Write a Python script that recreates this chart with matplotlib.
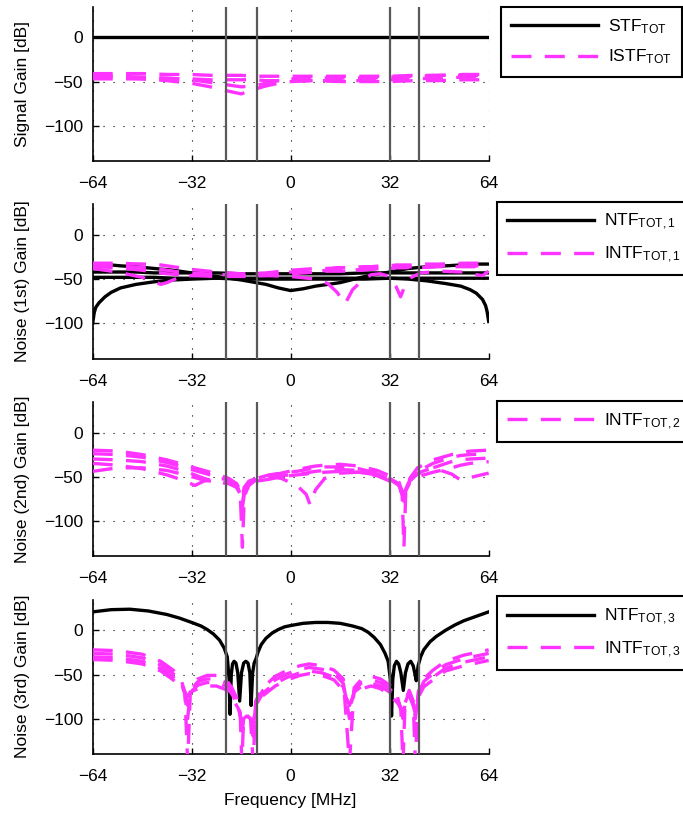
import numpy as np
import matplotlib
matplotlib.use("Agg")
import matplotlib.pyplot as plt

plt.rcParams['font.family'] = ['Liberation Sans', 'DejaVu Sans']
plt.rcParams['font.size'] = 12.5
plt.rcParams['mathtext.default'] = 'regular'

MAG = '#ff33ff'
# band edges (MHz)
band_edges = [-21, -11, 32, 41.6]

# ---- panel 1: signal gain
stf_f = [-64, 64]
stf_tot = [0, 0]
f1 = [-64, -56, -48, -40, -32, -26, -20, -16, -12, -8, -4, 0, 8, 16, 24, 32, 40, 48, 56, 64]
istf_a = [-41, -41, -41, -42, -42, -43, -43, -43, -44, -44, -44, -44, -44, -44, -44, -44, -43, -43, -42, -42]
istf_b = [-47, -47, -47, -47, -47, -48, -48, -48, -48, -49, -49, -49, -49, -50, -50, -50, -49, -49, -48, -48]
istf_c = [-44, -45, -47, -49, -52, -56, -61, -64, -59, -55, -52, -50, -49, -49, -49, -48, -47, -46, -45, -44]
istf_d = [-43, -44, -45, -46, -48, -51, -54, -56, -55, -52, -49, -47, -46, -46, -46, -45, -44, -43, -43, -43]

# ---- panel 2: 1st stage noise
f2 = [-64, -63.5, -63, -62, -60, -58, -55, -50, -44, -38, -32, -24, -16, -8, -4, 0, 4, 8, 16, 24, 32,
      38, 44, 50, 55, 58, 60, 62, 63, 63.5, 64]
ntf1_edge = [-100, -88, -82, -77, -70, -65, -60, -56, -53, -51, -50, -49, -49, -49, -49, -49, -49, -49, -49, -49, -49,
             -50, -52, -55, -58, -62, -66, -73, -80, -87, -98]
ntf1_dip = [-33, -33, -33, -33, -34, -34, -35, -36, -38, -40, -43, -47, -51, -56, -60, -63, -61, -58, -54, -47, -42,
            -38, -36, -35, -34, -33, -33, -33, -33, -33, -33]
ntf1_flat1 = [-42, -42, -42, -42, -42, -42, -42, -42, -43, -43, -43, -43, -44, -44, -44, -44, -44, -44, -44, -43, -43,
              -43, -43, -43, -43, -43, -43, -43, -43, -43, -43]
ntf1_flat2 = [-48, -48, -48, -48, -48, -48, -48, -48, -48, -49, -49, -49, -50, -50, -50, -50, -50, -50, -50, -50, -49,
              -49, -49, -49, -49, -49, -49, -49, -49, -49, -49]
f2m = [-64, -56, -48, -44, -42, -40, -36, -32, -24, -16, -8, 0, 8, 12, 15, 17.5, 18.5, 20, 23, 26, 29, 32, 34,
       35.5, 36, 37, 39, 42, 48, 56, 60, 62, 64]
intf1_a = [-32, -32, -33, -33, -34, -35, -37, -39, -42, -44, -43, -40, -38, -38, -37, -37, -37, -37, -36, -36, -35,
           -35, -34, -34, -34, -34, -34, -33, -33, -32, -32, -32, -32]
intf1_b = [-36, -37, -40, -42, -43, -44, -45, -46, -47, -47, -46, -44, -42, -41, -41, -41, -41, -40, -40, -39, -38,
           -38, -37, -37, -37, -37, -36, -36, -35, -35, -35, -35, -35]
intf1_c = [-38, -42, -48, -53, -56, -54, -48, -46, -45, -45, -44, -42, -41, -40, -40, -40, -40, -40, -39, -39, -38,
           -38, -37, -37, -37, -37, -37, -37, -36, -36, -36, -36, -36]
intf1_d = [-34, -35, -37, -38, -39, -40, -42, -43, -45, -46, -46, -47, -50, -55, -65, -78, -72, -62, -52, -45, -44,
           -47, -58, -70, -66, -56, -48, -43, -41, -42, -45, -46, -41]

# ---- panel 3: 2nd stage noise
f3 = [-64, -56, -48, -40, -34, -31, -28, -24, -20, -17.5, -16.3, -15.6, -15, -13.5, -11, -7, -3, 2, 5, 6.3, 8,
      11, 16, 22, 28, 32, 35, 36, 36.6, 37.2, 38.5, 41, 46, 52, 55, 58, 64]
intf2_a = [-20, -21, -25, -31, -37, -40, -43, -47, -52, -58, -70, -130, -72, -60, -53, -49, -46, -42, -40, -39, -38,
           -37, -36, -38, -43, -49, -56, -68, -130, -68, -52, -40, -31, -25, -23, -21, -20]
intf2_b = [-24, -25, -28, -34, -40, -43, -46, -50, -54, -60, -68, -80, -66, -58, -52, -48, -46, -44, -42, -41, -40,
           -39, -39, -41, -46, -52, -58, -66, -75, -64, -54, -44, -35, -28, -26, -25, -24]
intf2_c = [-30, -31, -33, -38, -44, -48, -52, -56, -58, -62, -68, -76, -65, -58, -53, -51, -49, -47, -46, -45, -44,
           -43, -42, -43, -47, -53, -60, -68, -78, -64, -55, -47, -40, -33, -31, -30, -29]
intf2_d = [-35, -37, -41, -48, -55, -60, -55, -52, -53, -58, -65, -72, -62, -55, -52, -50, -52, -60, -70, -82, -65,
           -52, -46, -45, -49, -55, -62, -70, -76, -62, -52, -46, -40, -47, -54, -51, -46]
intf2_e = [-44, -40, -40, -43, -48, -51, -54, -56, -57, -62, -70, -85, -70, -60, -55, -53, -50, -48, -47, -46, -46,
           -45, -44, -45, -48, -53, -60, -70, -80, -66, -57, -50, -45, -40, -37, -35, -33]

# ---- panel 4: 3rd stage noise
ntf3_f = [-64, -58, -52, -46, -40, -36, -32, -29, -27, -25, -23, -21.5, -20.5, -19.9, -19.6, -19.2, -18.8, -18.3,
          -17.7, -17.1, -16.5, -15.9, -15.2, -14.5, -13.8, -13.2, -12.8, -12.3, -11.8, -11.2, -10.5, -9.5, -8, -6,
          -4, -2, 0, 4, 8, 12, 16, 20, 23, 25, 27, 29, 30.5, 31.5, 32.2, 32.6, 33, 33.5, 34.2, 34.9, 35.6, 36.4,
          37.1, 37.9, 38.8, 39.6, 40.2, 40.6, 41.2, 42, 43, 45, 47, 50, 53, 56, 60, 64]
ntf3 = [21, 23.5, 24, 22, 18, 14, 9, 5, 1, -4, -11, -20, -30, -55, -95, -50, -38, -35,
        -37, -48, -80, -48, -37, -35, -37, -48, -85, -48, -37, -32, -24, -16, -9, -3,
        1, 4, 5.5, 8, 9, 9, 8, 5, 2, -2, -8, -16, -26, -35, -55, -97, -55, -40, -35, -38, -48, -68,
        -48, -38, -35, -40, -50, -57, -40, -30, -22, -13, -7, 0, 6, 11, 16, 21]
f4 = [-64, -56, -48, -42, -38, -35.5, -34.2, -33.3, -32.4, -30, -27, -24, -21, -19, -17, -16.3, -15.8, -15.2,
      -14.2, -13, -12.1, -11.3, -9, -5, -1, 3, 6, 10, 14, 17, 19, 20.5, 23, 26, 29, 32, 34.5, 35.6, 36.3, 37,
      38.3, 39.6, 40.3, 41.2, 43, 46, 50, 56, 64]
intf3_a = [-22, -23, -27, -35, -45, -55, -70, -150, -66, -55, -51, -51, -55, -65, -80, -95, -150, -100,
           -96, -100, -150, -80, -65, -52, -45, -40, -38, -40, -45, -55, -150, -65, -55, -52, -55, -62, -75, -90, -150, -80,
           -68, -80, -150, -70, -55, -45, -35, -28, -22]
intf3_b = [-26, -27, -31, -39, -49, -58, -72, -100, -68, -58, -55, -55, -59, -68, -82, -95, -120, -100,
           -97, -100, -120, -82, -68, -56, -49, -44, -42, -44, -49, -60, -100, -68, -59, -56, -59, -66, -78, -88, -100, -82,
           -70, -82, -100, -72, -58, -49, -39, -32, -26]
intf3_c = [-30, -31, -35, -43, -53, -61, -70, -85, -70, -62, -59, -59, -63, -72, -85, -95, -110, -100,
           -98, -100, -110, -85, -71, -60, -53, -48, -46, -48, -53, -64, -90, -70, -63, -60, -63, -70, -80, -88, -95, -84,
           -72, -84, -95, -74, -61, -53, -43, -36, -30]
intf3_d = [-33, -34, -38, -46, -56, -64, -70, -75, -70, -66, -63, -63, -67, -76, -88, -96, -105, -100,
           -99, -100, -105, -88, -74, -63, -56, -51, -49, -51, -56, -68, -85, -72, -66, -63, -66, -73, -82, -88, -92, -85,
           -74, -85, -92, -76, -64, -56, -46, -40, -34]

ylabels = ['Signal Gain [dB]', 'Noise (1st) Gain [dB]', 'Noise (2nd) Gain [dB]', 'Noise (3rd) Gain [dB]']

fig = plt.figure(figsize=(6.83, 8.13), dpi=100)
bottoms = [0.802, 0.559, 0.316, 0.0726]
axes = [fig.add_axes([0.1357, b, 0.5798, 0.19]) for b in bottoms]

lw = 2.4
dash = (6, 4)


def black(ax, x, y, label=None):
    ax.plot(x, y, color='k', lw=lw, label=label, zorder=3)


def magenta(ax, x, y, label=None):
    ax.plot(x, y, color=MAG, lw=lw, dashes=dash, label=label, zorder=4)


ax = axes[0]
black(ax, stf_f, stf_tot, r'STF$_{\mathregular{TOT}}$')
magenta(ax, f1, istf_a, r'ISTF$_{\mathregular{TOT}}$')
for y in [istf_b, istf_c, istf_d]:
    magenta(ax, f1, y)

ax = axes[1]
black(ax, f2, ntf1_edge, r'NTF$_{\mathregular{TOT,1}}$')
for y in [ntf1_dip, ntf1_flat1, ntf1_flat2]:
    black(ax, f2, y)
magenta(ax, f2m, intf1_a, r'INTF$_{\mathregular{TOT,1}}$')
for y in [intf1_b, intf1_c, intf1_d]:
    magenta(ax, f2m, y)

ax = axes[2]
magenta(ax, f3, intf2_a, r'INTF$_{\mathregular{TOT,2}}$')
for y in [intf2_b, intf2_c, intf2_d, intf2_e]:
    magenta(ax, f3, y)

ax = axes[3]
black(ax, ntf3_f, ntf3, r'NTF$_{\mathregular{TOT,3}}$')
magenta(ax, f4, intf3_a, r'INTF$_{\mathregular{TOT,3}}$')
for y in [intf3_b, intf3_c, intf3_d]:
    magenta(ax, f4, y)

anchors = [(1.03, 1.0), (1.02, 1.015), (1.02, 1.005), (1.02, 1.02)]
for i, ax in enumerate(axes):
    for fe in band_edges:
        ax.axvline(fe, color='0.35', lw=1.6, zorder=6)
    ax.set_xlim(-64, 64)
    ax.set_ylim(-140, 35)
    ax.set_xticks([-64, -32, 0, 32, 64])
    ax.set_yticks([-100, -50, 0])
    ax.grid(True, color='k', lw=0.8, linestyle=(0, (1, 8)))
    ax.tick_params(direction='in', length=4, width=1, labelsize=12.5)
    ax.tick_params(axis='x', pad=11)
    ax.tick_params(axis='y', pad=7)
    for s in ['top', 'right']:
        ax.spines[s].set_visible(False)
    for s in ['left', 'bottom']:
        ax.spines[s].set_linewidth(1.2)
    ax.set_ylabel(ylabels[i], fontsize=12.5, labelpad=10)
    leg = ax.legend(loc='upper left', bbox_to_anchor=anchors[i], borderaxespad=0,
                    handlelength=5.0, handletextpad=0.6, borderpad=0.6, labelspacing=0.7,
                    fancybox=False, framealpha=1, edgecolor='k', fontsize=12.5)
    leg.get_frame().set_linewidth(1.5)

axes[3].set_xlabel('Frequency [MHz]', fontsize=12.5, labelpad=6)

fig.savefig('out.png', dpi=100)
